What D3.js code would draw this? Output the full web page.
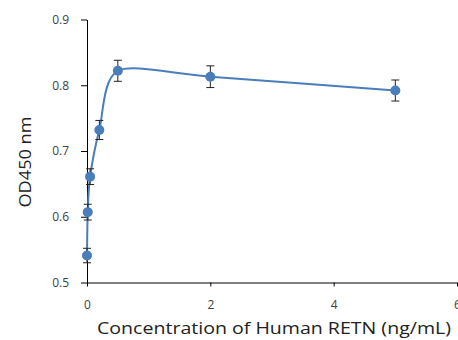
<!DOCTYPE html>
<html>
<head>
<meta charset="utf-8">
<script src="https://cdn.jsdelivr.net/npm/d3@7"></script>
<style>
  body { margin: 0; background: #fff; }
  svg { display: block; }
  .axis path, .axis line { stroke: #000; }
  .axis text { fill: #404040; font-family: "Open Sans", sans-serif; font-size: 12px; }
</style>
</head>
<body>
<div id="chart"></div>
<script>
// concentrations (ng/mL), OD readings and error bar half-widths
const conc = [0, 0.012, 0.05, 0.2, 0.5, 2, 5];
const od = [0.541, 0.607, 0.661, 0.732, 0.822, 0.813, 0.792];
const err = [0.011, 0.012, 0.012, 0.0145, 0.016, 0.0165, 0.016];
const xTicks = [0, 2, 4, 6];
const yTicks = [0.5, 0.6, 0.7, 0.8, 0.9];

const width = 458, height = 340;
const margin = {top: 19.5, right: 1, bottom: 57.5, left: 87};

const svg = d3.select("#chart").append("svg")
  .attr("width", width)
  .attr("height", height);

const x = d3.scaleLinear().domain([0, 6]).range([margin.left, width - margin.right]);
const y = d3.scaleLinear().domain([0.5, 0.9]).range([height - margin.bottom, margin.top]);

// y axis
svg.append("g")
  .attr("class", "axis")
  .attr("transform", `translate(${margin.left},0)`)
  .call(d3.axisLeft(y).tickValues(yTicks).tickFormat(d3.format(".1f")).tickSize(6).tickSizeOuter(0).tickPadding(12));

// x axis
svg.append("g")
  .attr("class", "axis")
  .attr("transform", `translate(0,${y(0.5)})`)
  .call(d3.axisBottom(x).tickValues(xTicks).tickFormat(d3.format("d")).tickSize(4).tickSizeOuter(0).tickPadding(14));

const pts = conc.map((c, i) => ({x: c, y: od[i], e: err[i]}));

// smoothed line (excel-like smoothing)
const line = d3.line()
  .x(d => x(d.x))
  .y(d => y(d.y))
  .curve(d3.curveCardinal.tension(0.2));

svg.append("path")
  .datum(pts)
  .attr("fill", "none")
  .attr("stroke", "#4a7ebb")
  .attr("stroke-width", 2)
  .attr("d", line);

// error bars
const eb = svg.append("g").attr("stroke", "#222").attr("stroke-width", 1);
pts.forEach(d => {
  eb.append("line").attr("x1", x(d.x)).attr("x2", x(d.x)).attr("y1", y(d.y - d.e)).attr("y2", y(d.y + d.e));
  [d.y - d.e, d.y + d.e].forEach(v => {
    eb.append("line").attr("x1", x(d.x) - 4).attr("x2", x(d.x) + 4).attr("y1", y(v)).attr("y2", y(v));
  });
});

// markers
svg.append("g")
  .selectAll("circle")
  .data(pts)
  .enter()
  .append("circle")
  .attr("cx", d => x(d.x))
  .attr("cy", d => y(d.y))
  .attr("r", 5)
  .attr("fill", "#4a7ebb");

// axis labels
svg.append("text")
  .attr("x", 274)
  .attr("y", 334)
  .attr("text-anchor", "middle")
  .attr("font-family", "'Open Sans', sans-serif")
  .attr("font-size", 17)
  .attr("fill", "#222")
  .attr("textLength", 354)
  .attr("lengthAdjust", "spacingAndGlyphs")
  .text("Concentration of Human RETN (ng/mL)");

svg.append("text")
  .attr("transform", "translate(31,162) rotate(-90)")
  .attr("text-anchor", "middle")
  .attr("font-family", "'Open Sans', sans-serif")
  .attr("font-size", 17)
  .attr("fill", "#222")
  .attr("textLength", 91)
  .attr("lengthAdjust", "spacingAndGlyphs")
  .text("OD450 nm");
</script>
</body>
</html>
